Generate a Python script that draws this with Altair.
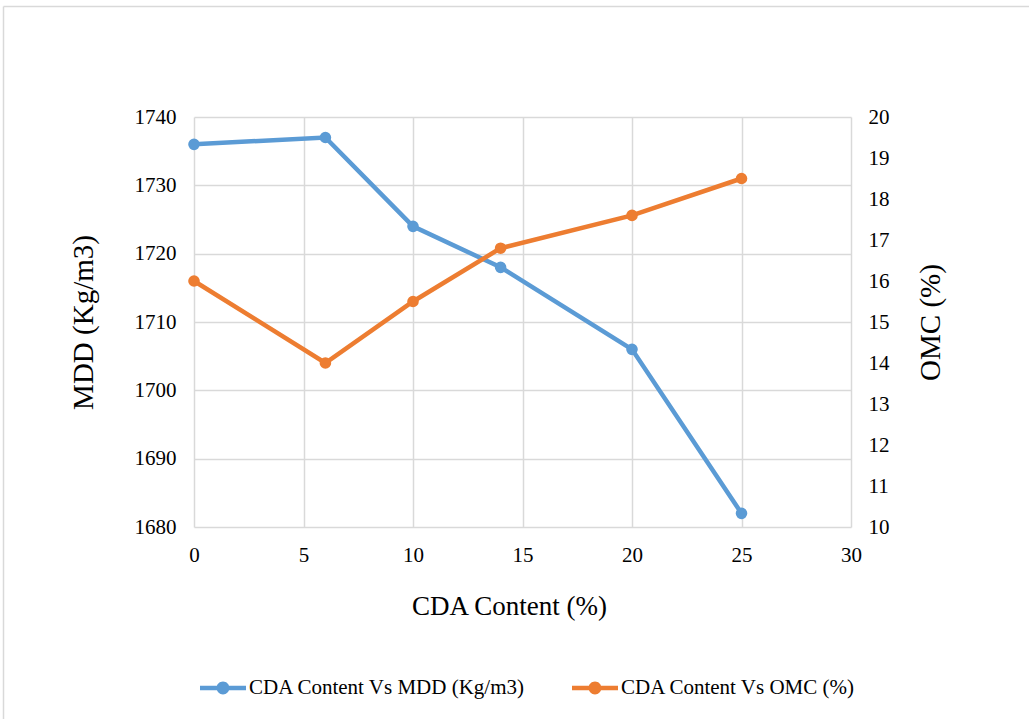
import altair as alt
import pandas as pd

# ---- data ----
cda = [0, 6, 10, 14, 20, 25]
mdd = [1736, 1737, 1724, 1718, 1706, 1682]
omc = [16.0, 14.0, 15.5, 16.8, 17.6, 18.5]
series = ["CDA Content Vs MDD (Kg/m3)", "CDA Content Vs OMC (%)"]
colors = ["#5B9BD5", "#ED7D31"]
x_ticks = [0, 5, 10, 15, 20, 25, 30]
left_ticks = [1680, 1690, 1700, 1710, 1720, 1730, 1740]
right_ticks = [10, 11, 12, 13, 14, 15, 16, 17, 18, 19, 20]

df_mdd = pd.DataFrame({"cda": cda, "val": mdd, "series": series[0]})
df_omc = pd.DataFrame({"cda": cda, "val": omc, "series": series[1]})

FONT = "Liberation Serif"
GRID = "#D9D9D9"
LBL = 21

xenc = alt.X(
    "cda:Q",
    scale=alt.Scale(domain=[0, 30], nice=False),
    axis=alt.Axis(
        values=x_ticks, title="CDA Content (%)", grid=True, gridColor=GRID,
        gridWidth=1.5, domain=False, ticks=False, labelPadding=17,
        labelFlush=False, titlePadding=28, labelFontSize=LBL,
        titleFontSize=27, titleX=315, format="d",
    ),
)

legend_path = ("M-1,-0.098L1,-0.098L1,0.098L-1,0.098Z "
               "M-0.28,0A0.28,0.28 0 1,1 0.28,0A0.28,0.28 0 1,1 -0.28,0Z")

fill_enc = alt.Fill(
    "series:N",
    scale=alt.Scale(domain=series, range=colors),
    legend=alt.Legend(
        title=None, orient="none", legendX=6, legendY=548,
        direction="horizontal", symbolType=legend_path, symbolSize=2116,
        symbolStrokeWidth=0, labelFont=FONT, labelFontSize=21,
        labelColor="#000000", labelOffset=3, columnPadding=46,
        labelLimit=400,
    ),
)

y_left = alt.Y(
    "val:Q",
    scale=alt.Scale(domain=[1680, 1740], nice=False, zero=False),
    axis=alt.Axis(
        values=left_ticks, title="MDD (Kg/m3)", grid=True, gridColor=GRID,
        gridWidth=1.5, domain=False, ticks=False, labelPadding=18,
        titlePadding=36, labelFontSize=LBL, titleFontSize=29,
        orient="left", format="d",
    ),
)
y_right = alt.Y(
    "val:Q",
    scale=alt.Scale(domain=[10, 20], nice=False, zero=False),
    axis=alt.Axis(
        values=right_ticks, title="OMC (%)", grid=False, domain=False,
        ticks=False, labelPadding=17, titlePadding=56, labelFontSize=LBL,
        titleFontSize=29, orient="right", titleAngle=270, format="d",
    ),
)

line_mdd = alt.Chart(df_mdd).mark_line(color=colors[0], strokeWidth=4.5).encode(x=xenc, y=y_left)
pt_mdd = alt.Chart(df_mdd).mark_circle(size=135, opacity=1).encode(x=xenc, y=y_left, fill=fill_enc)
line_omc = alt.Chart(df_omc).mark_line(color=colors[1], strokeWidth=4.5).encode(x=xenc, y=y_right)
pt_omc = alt.Chart(df_omc).mark_circle(size=135, opacity=1).encode(x=xenc, y=y_right, fill=fill_enc)

left = alt.layer(line_mdd, pt_mdd)
right = alt.layer(line_omc, pt_omc)

# outer frame lines (decoration)
frame_df = pd.DataFrame({"k": [0]})
frame_left = alt.Chart(frame_df).mark_rule(color=GRID, strokeWidth=1.5).encode(
    x=alt.value(-190.5), y=alt.value(-110.5), y2=alt.value(602)
)
frame_top = alt.Chart(frame_df).mark_rule(color=GRID, strokeWidth=1.5).encode(
    x=alt.value(-190.5), x2=alt.value(835), y=alt.value(-110.5)
)

chart = (
    alt.layer(left, right, frame_left, frame_top)
    .resolve_scale(y="independent")
    .properties(
        width=657, height=410,
        autosize=alt.AutoSizeParams(type="none"),
        padding={"left": 194, "top": 117, "right": 178, "bottom": 192},
        background="white",
    )
    .configure_view(stroke=None)
    .configure_axis(
        labelFont=FONT, titleFont=FONT, labelColor="#000000",
        titleColor="#000000", titleFontWeight="normal",
    )
)

chart.save("out.html", embed_options={"renderer": "svg", "actions": False})
